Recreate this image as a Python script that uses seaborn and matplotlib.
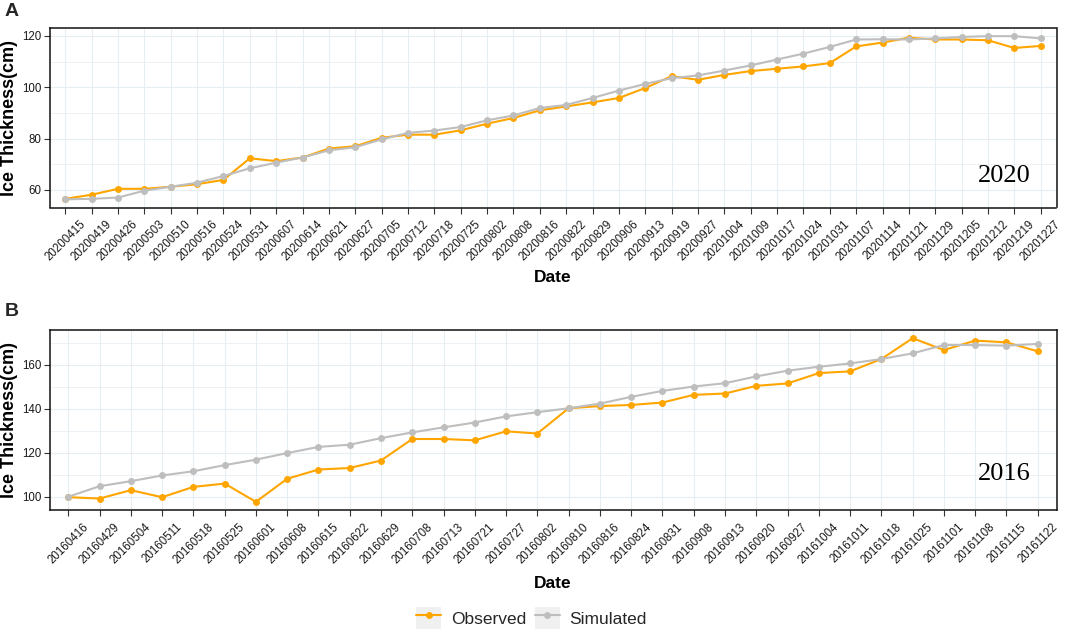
import pandas as pd
import matplotlib.pyplot as plt
import seaborn as sns
from matplotlib.lines import Line2D
from matplotlib.patches import Rectangle
from matplotlib.legend_handler import HandlerLine2D
from matplotlib.ticker import MultipleLocator

# ---- data ----
dates_2020 = ["20200415", "20200419", "20200426", "20200503", "20200510", "20200516",
              "20200524", "20200531", "20200607", "20200614", "20200621", "20200627",
              "20200705", "20200712", "20200718", "20200725", "20200802", "20200808",
              "20200816", "20200822", "20200829", "20200906", "20200913", "20200919",
              "20200927", "20201004", "20201009", "20201017", "20201024", "20201031",
              "20201107", "20201114", "20201121", "20201129", "20201205", "20201212",
              "20201219", "20201227"]
obs_2020 = [56.5, 58.1, 60.4, 60.4, 61.2, 62.2, 63.9, 72.3, 71.2, 72.6, 76.1, 77.0,
            80.3, 81.5, 81.5, 83.2, 85.8, 88.0, 91.0, 92.5, 94.1, 95.8, 99.7, 104.3,
            102.9, 104.8, 106.3, 107.2, 108.1, 109.4, 115.9, 117.4, 119.3, 118.6,
            118.6, 118.3, 115.3, 116.1]
sim_2020 = [56.3, 56.5, 57.0, 59.7, 61.2, 62.8, 65.4, 68.4, 70.6, 72.6, 75.4, 76.6,
            79.7, 82.2, 83.1, 84.5, 87.1, 89.0, 91.9, 93.1, 95.8, 98.7, 101.3, 103.5,
            104.6, 106.5, 108.5, 110.8, 113.1, 115.7, 118.6, 118.7, 118.6, 119.0,
            119.6, 119.9, 119.9, 119.0]

dates_2016 = ["20160416", "20160429", "20160504", "20160511", "20160518", "20160525",
              "20160601", "20160608", "20160615", "20160622", "20160629", "20160708",
              "20160713", "20160721", "20160727", "20160802", "20160810", "20160816",
              "20160824", "20160831", "20160908", "20160913", "20160920", "20160927",
              "20161004", "20161011", "20161018", "20161025", "20161101", "20161108",
              "20161115", "20161122"]
obs_2016 = [99.8, 99.2, 103.0, 99.8, 104.5, 106.0, 97.7, 108.2, 112.4, 113.1, 116.5,
            126.3, 126.3, 125.7, 129.8, 128.8, 140.3, 141.3, 141.8, 142.9, 146.4,
            147.0, 150.5, 151.6, 156.3, 157.1, 162.7, 172.2, 166.8, 171.1, 170.3, 166.2]
sim_2016 = [100.0, 104.8, 107.1, 109.7, 111.6, 114.4, 116.9, 119.9, 122.7, 123.7,
            126.7, 129.3, 131.6, 133.8, 136.6, 138.5, 140.3, 142.4, 145.5, 148.2,
            150.2, 151.7, 154.8, 157.4, 159.2, 160.7, 162.7, 165.3, 169.1, 169.1,
            168.8, 169.6]

colors = {"Observed": "#FFA500", "Simulated": "#BEBEBE"}
grid_col = "#E6EDF3"
text_col = "#1a1a1a"

sns.set_theme(style="white")
plt.rcParams['font.family'] = ['Liberation Sans', 'DejaVu Sans']


def long_frame(dates, obs, sim):
    n = len(dates)
    return pd.DataFrame({
        "pos": list(range(n)) * 2,
        "value": obs + sim,
        "type": ["Observed"] * n + ["Simulated"] * n,
    })


def draw_panel(ax, dates, obs, sim, year, year_y, date_y):
    df = long_frame(dates, obs, sim)
    sns.lineplot(data=df, x="pos", y="value", hue="type",
                 hue_order=["Observed", "Simulated"], palette=colors,
                 marker="o", markersize=5, markeredgewidth=0, linewidth=1.5,
                 legend=False, ax=ax)
    n = len(dates)
    ax.set_xlim(-0.6, n - 1 + 0.6)
    lo, hi = min(obs + sim), max(obs + sim)
    pad = (hi - lo) * 0.05
    ax.set_ylim(lo - pad, hi + pad)

    ax.set_xticks(range(n))
    ax.set_xticklabels(dates, rotation=45, ha="center", fontsize=8.3, color=text_col)
    ax.yaxis.set_major_locator(MultipleLocator(20))
    ax.yaxis.set_minor_locator(MultipleLocator(10))
    ax.tick_params(axis="y", labelsize=8.3, labelcolor=text_col)
    ax.tick_params(which="major", length=4, width=0.8, color="#333333", pad=2,
                   bottom=True, left=True)
    ax.tick_params(axis="x", pad=4)
    ax.tick_params(which="minor", length=0)
    ax.tick_params(axis="x", top=True, direction="out")
    for t in ax.xaxis.get_major_ticks():
        t.tick2line.set_markeredgecolor("white")
        t.tick2line.set_markersize(3)
        t.tick2line.set_markeredgewidth(1.6)

    ax.set_axisbelow(True)
    ax.grid(which="major", color=grid_col, linewidth=0.8)
    ax.grid(which="minor", axis="y", color=grid_col, linewidth=0.5)
    for sp in ax.spines.values():
        sp.set_color("#111111")
        sp.set_linewidth(1.1)

    ax.set_xlabel("Date", fontsize=12.5, fontweight="bold", color="black")
    ax.xaxis.set_label_coords(0.5, date_y)
    ax.set_ylabel("Ice Thickness(cm)", fontsize=13, fontweight="bold", color="black")
    ax.yaxis.set_label_coords(-0.031, 0.5)

    ax.text(0.948, year_y, year, transform=ax.transAxes, ha="center", va="center",
            fontsize=19, family="Liberation Serif", color="black")


W, H = 1065, 633
fig = plt.figure(figsize=(W / 100, H / 100), dpi=100)
ax1 = fig.add_axes([49.5 / W, 1 - 207.5 / H, 1007 / W, 179.5 / H])
ax2 = fig.add_axes([49.5 / W, 1 - 510 / H, 1007 / W, 180 / H])

draw_panel(ax1, dates_2020, obs_2020, sim_2020, "2020", 0.178, -0.35)
draw_panel(ax2, dates_2016, obs_2016, sim_2016, "2016", 0.2, -0.367)

fig.text(5 / W, 1 - 12 / H, "A", fontsize=14, fontweight="bold", ha="left", va="center")
fig.text(5 / W, 1 - 312 / H, "B", fontsize=14, fontweight="bold", ha="left", va="center")


class KeyBox(HandlerLine2D):
    def create_artists(self, legend, orig_handle, xdescent, ydescent, width, height,
                       fontsize, trans):
        box = Rectangle((-xdescent, -ydescent), width, height, transform=trans,
                        facecolor="#F0F0F0", edgecolor="none")
        arts = super().create_artists(legend, orig_handle, xdescent, ydescent,
                                      width, height, fontsize, trans)
        return [box] + list(arts)


handles = [Line2D([], [], color=colors[k], linewidth=1.5, marker="o", markersize=5,
                  markeredgewidth=0) for k in ["Observed", "Simulated"]]
fig.legend(handles, ["Observed", "Simulated"], loc="center",
           bbox_to_anchor=(0.499, 1 - 618 / H), ncol=2, frameon=False,
           fontsize=12.5, handlelength=1.45, handleheight=1.6, handletextpad=0.55,
           columnspacing=0.5, borderpad=0.1,
           handler_map={Line2D: KeyBox()})

fig.savefig("out.png", dpi=100)
